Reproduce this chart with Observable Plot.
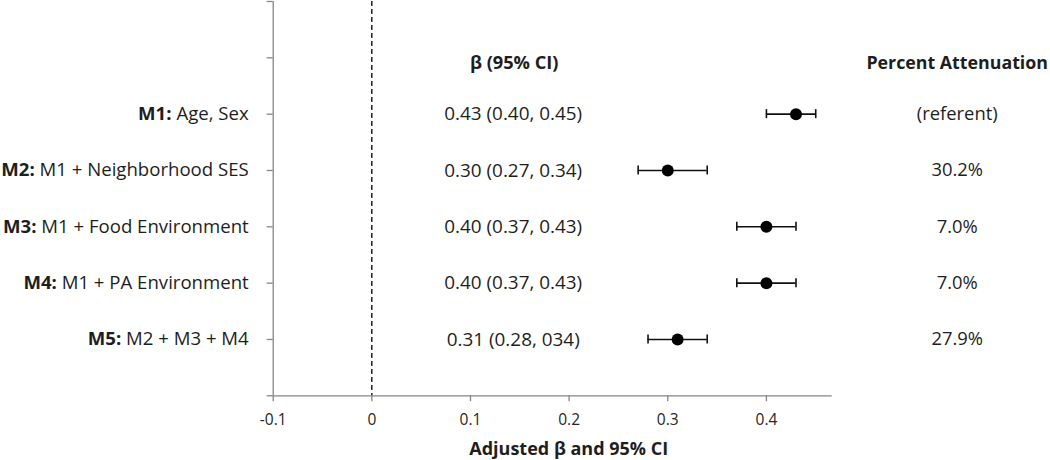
<!DOCTYPE html>
<html><head><meta charset="utf-8">
<script src="https://cdn.jsdelivr.net/npm/d3@7"></script>
<script src="https://cdn.jsdelivr.net/npm/@observablehq/plot@0.6"></script>
<style>body{margin:0;background:#fff} svg{display:block}</style>
</head><body><div id="chart"></div>
<script>
const modelNames = ["M1:", "M2:", "M3:", "M4:", "M5:"];
const modelDesc = [" Age, Sex", " M1 + Neighborhood SES", " M1 + Food Environment", " M1 + PA Environment", " M2 + M3 + M4"];
const rowPos = [2, 3, 4, 5, 6];
const beta = [0.43, 0.30, 0.40, 0.40, 0.31];
const lower = [0.40, 0.27, 0.37, 0.37, 0.28];
const upper = [0.45, 0.34, 0.43, 0.43, 0.34];
const ciText = ["0.43 (0.40, 0.45)", "0.30 (0.27, 0.34)", "0.40 (0.37, 0.43)", "0.40 (0.37, 0.43)", "0.31 (0.28, 034)"];
const attenuation = ["(referent)", "30.2%", "7.0%", "7.0%", "27.9%"];
const headerPos = 1;
const headerBeta = "β (95% CI)";
const headerPct = "Percent Attenuation";
const xLabel = "Adjusted β and 95% CI";
const xTicks = [-0.1, 0, 0.1, 0.2, 0.3, 0.4];
const xTickLabels = ["-0.1", "0", "0.1", "0.2", "0.3", "0.4"];
const yTicks = [0, 1, 2, 3, 4, 5, 6, 7];

const rows = modelNames.map((n, i) => ({
  name: n, desc: modelDesc[i], pos: rowPos[i], beta: beta[i],
  lo: lower[i], hi: upper[i], ci: ciText[i], pct: attenuation[i]
}));
const fullLabels = rows.map(d => d.name + d.desc);

const axisGray = "#868686";
const textColor = "#1e1e1e";

const svg = Plot.plot({
  width: 1050,
  height: 460,
  marginTop: 1,
  marginLeft: 272.7,
  marginRight: 218.3,
  marginBottom: 64.7,
  style: {fontFamily: "'Open Sans', Lato, sans-serif", fontSize: "18px", color: textColor, background: "#fff"},
  x: {domain: [-0.1, 0.4667]},
  y: {domain: [7, 0]},
  marks: [
    Plot.ruleX([0], {stroke: "black", strokeWidth: 1.3, strokeDasharray: "5,3"}),
    Plot.ruleX([-0.1], {stroke: axisGray, strokeWidth: 1.3}),
    Plot.ruleY([7], {stroke: axisGray, strokeWidth: 1.3}),
    Plot.axisY({ticks: yTicks, tickSize: 6, tickFormat: () => "", stroke: axisGray, strokeWidth: 1.3, label: null}),
    Plot.axisX({ticks: xTicks, tickSize: 6, tickPadding: 12, tickFormat: (d) => xTickLabels[xTicks.indexOf(d)], stroke: axisGray, strokeWidth: 1.3, fill: "#262626", label: null}),
    Plot.ruleY(rows, {y: "pos", x1: "lo", x2: "hi", stroke: "#111", strokeWidth: 1.6}),
    Plot.ruleX(rows, {x: "lo", y1: d => d.pos - 0.08, y2: d => d.pos + 0.08, stroke: "#111", strokeWidth: 1.6}),
    Plot.ruleX(rows, {x: "hi", y1: d => d.pos - 0.08, y2: d => d.pos + 0.08, stroke: "#111", strokeWidth: 1.6}),
    Plot.dot(rows, {x: "beta", y: "pos", r: 6, fill: "black", stroke: null}),
    Plot.text(rows, {y: "pos", text: d => d.name + d.desc, frameAnchor: "left", textAnchor: "end", dx: -24.5, fontSize: 18.6, fill: textColor}),
    Plot.text(rows, {y: "pos", text: "ci", frameAnchor: "left", textAnchor: "middle", dx: 240, fontSize: 18.9, fill: textColor}),
    Plot.text(rows, {y: "pos", text: "pct", frameAnchor: "right", textAnchor: "middle", dx: 125, fontSize: 18.4, fill: textColor}),
    Plot.text([headerBeta], {y: () => headerPos, frameAnchor: "left", textAnchor: "middle", dx: 241, dy: 5, fontSize: 18.2, fontWeight: "bold", fill: textColor}),
    Plot.text([headerPct], {y: () => headerPos, frameAnchor: "right", textAnchor: "middle", dx: 125, dy: 5, fontSize: 17.8, fontWeight: "bold", fill: textColor}),
    Plot.text([xLabel], {frameAnchor: "bottom", lineAnchor: "middle", dy: 53, dx: 16, fontSize: 18, fontWeight: "bold", fill: textColor})
  ]
});

d3.select(svg).selectAll("text").filter(function() {
  return fullLabels.includes(this.textContent);
}).each(function() {
  const j = fullLabels.indexOf(this.textContent);
  const t = d3.select(this);
  t.text(null).style("white-space", "pre");
  t.append("tspan").attr("font-weight", "bold").text(modelNames[j]);
  t.append("tspan").text(modelDesc[j]);
});

d3.select(svg).selectAll("text").filter(function() {
  return xTickLabels.includes(this.textContent);
}).style("font-size", "15.5px");

document.getElementById("chart").appendChild(svg);
</script>
</body></html>
